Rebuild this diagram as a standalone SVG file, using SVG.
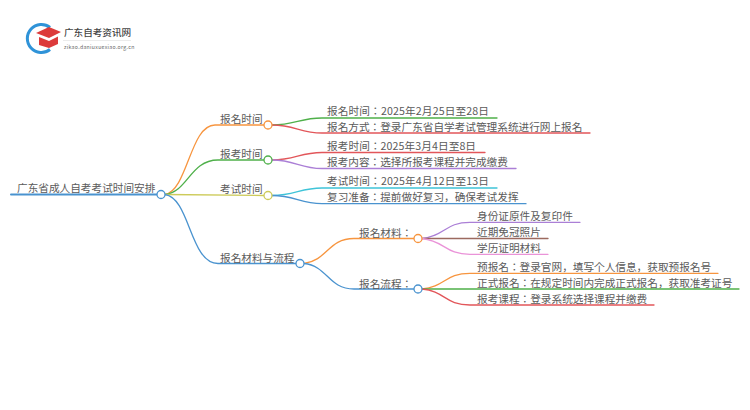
<svg xmlns="http://www.w3.org/2000/svg" width="750" height="410" viewBox="0 0 750 410">
<style>
text{font-family:"Noto Sans CJK KR","Noto Sans",sans-serif;font-size:10.65px;fill:#5a5a5a}
.c path{fill:none;stroke-width:1.3;stroke-linecap:round}
.n{fill:#fff;stroke-width:1.3}
.or{stroke:#f7953f}.gr{stroke:#4fb04a}.re{stroke:#e2565a}.pu{stroke:#ab7fd6}.ye{stroke:#cdcb5a}.cy{stroke:#3fc4d8}.bl{stroke:#4a93cf}.br{stroke:#9c6a5f}.pk{stroke:#ea93d8}
</style>
<rect width="750" height="410" fill="#fff"/>
<g id="logo">
<path d="M50 27.500A14 14 0 1 0 50 49.500" fill="none" stroke="#2f93d8" stroke-width="3"/>
<path d="M36 33L49 27L61 32L49 38Z" fill="#dc3b3b"/>
<path d="M39 37L49 41L58 36.500V44L49 48L39 45Z" fill="#dc3b3b"/>
<text x="64" y="35.500" style="font-size:9.6px;font-weight:500;fill:#444">广东自考资讯网</text>
<path d="M63 40.500H131" stroke="#ddd" stroke-width=".6"/>
<text x="64" y="48.500" style="font-size:5.2px;fill:#666;letter-spacing:.3px">zikao.daniuxuexiao.org.cn</text>
</g>
<g id="connectors" class="c">
<path class="bl" style="stroke-width:2" d="M11 194.500H157"/>
<path class="or" d="M165 194.500C188 190 190 125 215 125H264"/>
<path class="gr" d="M165 194.500C188 192 190 160 218 160H264"/>
<path class="ye" d="M165 194.500L264 195.500"/>
<path class="bl" d="M165 194.500C190 198 190 263.500 218 263.500H296"/>
<path class="gr" d="M272 125C295 125 300 118 322 118H497"/>
<path class="re" d="M272 125C295 125 300 133 322 133H590"/>
<path class="re" d="M272 160C295 160 300 152.500 322 152.500H485"/>
<path class="pu" d="M272 160C295 160 300 168.500 322 168.500H516"/>
<path class="cy" d="M272 195.500C295 195.500 300 188 322 188H497"/>
<path class="bl" d="M272 195.500C295 195.500 300 203.700 322 203.700H526"/>
<path class="or" d="M304 263.500C328 260 328 238.500 354 238.500H414"/>
<path class="bl" d="M304 263.500C328 266 328 289 354 289H414"/>
<path class="pu" d="M422 238.500C445 236 445 222.300 470 222.300H580"/>
<path class="br" d="M422 238.500H548"/>
<path class="pk" d="M422 238.500C445 241 445 254.300 470 254.300H548"/>
<path class="or" d="M422 289C445 287 445 273.300 470 273.300H718"/>
<path class="gr" d="M422 289H739"/>
<path class="re" d="M422 289C445 291 445 305 470 305H654"/>
</g>
<g id="root"><text x="17" y="192">广东省成人自考考试时间安排</text><circle class="n bl" cx="161" cy="194.500" r="4"/></g>
<g id="n1"><text x="220" y="123">报名时间</text><circle class="n or" cx="268" cy="125" r="4"/></g>
<g id="n2"><text x="220" y="158">报考时间</text><circle class="n gr" cx="268" cy="160" r="4"/></g>
<g id="n3"><text x="220" y="193">考试时间</text><circle class="n ye" cx="268" cy="195.500" r="4"/></g>
<g id="n4"><text x="220" y="262">报名材料与流程</text><circle class="n bl" cx="300" cy="263.500" r="4"/></g>
<g id="n41"><text x="359" y="236.500">报名材料：</text><circle class="n or" cx="418" cy="238.500" r="4"/></g>
<g id="n42"><text x="359" y="288">报名流程：</text><circle class="n bl" cx="418" cy="289" r="4"/></g>
<g id="l1"><text x="327" y="115" textLength="162">报名时间：2025年2月25日至28日</text></g>
<g id="l2"><text x="327" y="131">报名方式：登录广东省自学考试管理系统进行网上报名</text></g>
<g id="l3"><text x="327" y="150" textLength="149">报考时间：2025年3月4日至8日</text></g>
<g id="l4"><text x="327" y="166">报考内容：选择所报考课程并完成缴费</text></g>
<g id="l5"><text x="327" y="185" textLength="162">考试时间：2025年4月12日至13日</text></g>
<g id="l6"><text x="327" y="201">复习准备：提前做好复习，确保考试发挥</text></g>
<g id="l7"><text x="477" y="220">身份证原件及复印件</text></g>
<g id="l8"><text x="477" y="236">近期免冠照片</text></g>
<g id="l9"><text x="477" y="252">学历证明材料</text></g>
<g id="l10"><text x="477" y="271">预报名：登录官网，填写个人信息，获取预报名号</text></g>
<g id="l11"><text x="477" y="287">正式报名：在规定时间内完成正式报名，获取准考证号</text></g>
<g id="l12"><text x="477" y="303">报考课程：登录系统选择课程并缴费</text></g>
</svg>
